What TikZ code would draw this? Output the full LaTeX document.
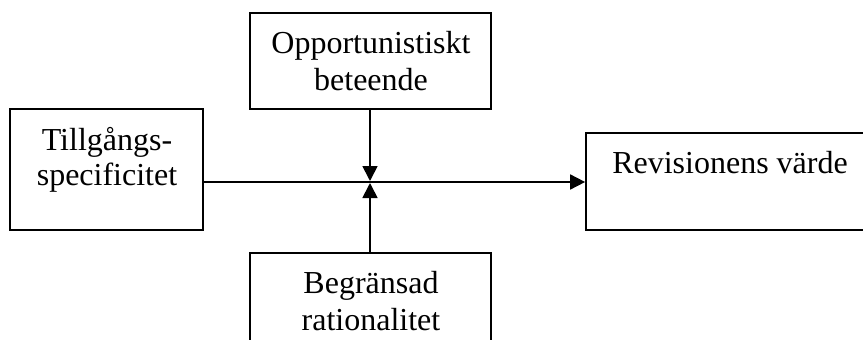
\documentclass[tikz,border=0pt]{standalone}
\usepackage{fontspec}
\setmainfont{Liberation Serif}
\usetikzlibrary{arrows.meta}
\begin{document}
\begin{tikzpicture}[x=1pt,y=-1pt,
  box/.style={draw=black, line width=1.7pt, inner sep=0pt, fill=none},
  txt/.style={anchor=base, inner sep=0pt, font=\fontsize{32}{37}\selectfont},
  arr/.style={line width=1.7pt, -{Triangle[length=15pt,width=15pt]}}]
\useasboundingbox (0,0) rectangle (863,340);
\clip (0,0) rectangle (863,340);
\node[box, minimum width=193pt, minimum height=121pt] (left) at (106.5,169.5) {};
\node[box, minimum width=241pt, minimum height=96pt] (top) at (370.5,61) {};
\node[box, minimum width=241pt, minimum height=96pt] (bottom) at (370.5,301) {};
\node[box, minimum width=288pt, minimum height=97pt] (right) at (730,181.5) {};
\node[txt] (l1) at (107,150) {Tillgångs-};
\node[txt] (l2) at (107,185) {specificitet};
\node[txt] (t1) at (371,53) {Opportunistiskt};
\node[txt] (t2) at (371,90) {beteende};
\node[txt] (b1) at (371,293) {Begränsad};
\node[txt] (b2) at (371,330) {rationalitet};
\node[txt] (r1) at (730,173) {Revisionens värde};
\coordinate (c) at (370,182);
\coordinate (ca) at (370,181);
\coordinate (cb) at (370,183);
\draw[arr] (left.east |- c) -- (right.west |- c);
\draw[arr] (top.south -| c) -- (ca);
\draw[arr] (bottom.north -| c) -- (cb);
\end{tikzpicture}
\end{document}
